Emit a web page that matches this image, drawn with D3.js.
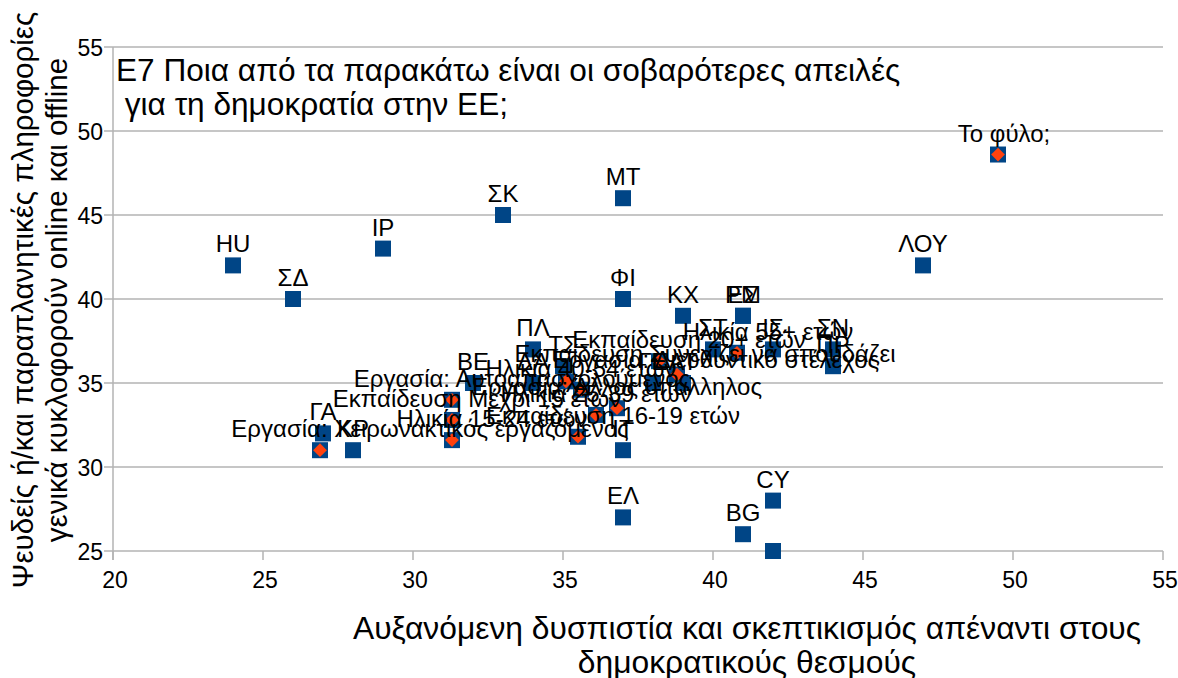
<!DOCTYPE html>
<html lang="el">
<head>
<meta charset="UTF-8">
<title>E7 scatter</title>
<script src="https://cdn.jsdelivr.net/npm/d3@7"></script>
<style>
    body { margin: 0; background: #fff; font-family: 'Liberation Sans', Arial, sans-serif; }
    svg text { fill: #000; }
</style>
</head>
<body>
<svg id="chart" width="1178" height="678"></svg>
<script>
    // countries (blue squares)
    const countryCodes = ["HU", "ΣΔ", "ΙΡ", "ΣΚ", "ΜΤ", "ΦΙ", "ΚΧ", "ΡΜ", "ΕΣ", "ΠΛ", "ΤΣ", "ΒΕ", "ΔΑ",
        "ΓΑ", "ΚΡ", "ΕΛ", "BG", "CY", "", "ΛΟΥ", "ΣΤ", "ΙΣ", "ΣΝ", "ΠΡ", "ΓΕ", "ΑΤ", "ΙΤ"];
    const countryX = [24, 26, 29, 33, 37, 37, 39, 41, 41, 34, 35, 32, 34,
        27, 28, 37, 41, 42, 42, 47, 40, 42, 44, 44, 38, 39, 37];
    const countryY = [42, 40, 43, 45, 46, 40, 39, 39, 39, 37, 36, 35, 35,
        32, 31, 27, 26, 28, 25, 42, 37, 37, 37, 36, 35, 35, 31];

    // socio-demographic groups (orange diamonds)
    const groupLabels = ["Το φύλο;", "Εργασία: Χειρωνακτικός εργαζόμενος", "Εργασία: Αυτοαπασχολούμενος",
        "Εκπαίδευση Μέχρι 15 ετών", "Ηλικία 15-24 ετών", "Εκπαίδευση 16-19 ετών", "Ηλικία 25-39 ετών",
        "Εργασία: Άλλος υπάλληλος", "Ηλικία 40-54 ετών", "Εργασία: Διευθυντικό στέλεχος",
        "Εκπαίδευση 20+ ετών", "Εκπαίδευση Συνεχίζει να σπουδάζει", "Ηλικία 55+ ετών"];
    const groupX = [49.5, 26.9, 31.3, 31.3, 31.3, 35.5, 36.1, 36.8, 35.6, 35.1, 38.2, 38.8, 40.8];
    const groupY = [48.6, 31.0, 34.0, 32.8, 31.6, 31.8, 33.1, 33.5, 34.6, 35.1, 36.3, 35.5, 36.8];

    const xTicks = [20, 25, 30, 35, 40, 45, 50, 55];
    const yTicks = [25, 30, 35, 40, 45, 50, 55];

    const titleLines = ["E7 Ποια από τα παρακάτω είναι οι σοβαρότερες απειλές", " για τη δημοκρατία στην ΕΕ;"];
    const xTitle = ["Αυξανόμενη δυσπιστία και σκεπτικισμός απέναντι στους", "δημοκρατικούς θεσμούς"];
    const yTitle = ["Ψευδείς ή/και παραπλανητικές πληροφορίες", "γενικά κυκλοφορούν online και offline"];

    const svg = d3.select("#chart");
    const margin = {left: 113, right: 15, top: 47, bottom: 127};
    const W = 1178, H = 678;

    const x = d3.scaleLinear().domain([20, 55]).range([margin.left, W - margin.right]);
    const y = d3.scaleLinear().domain([25, 55]).range([H - margin.bottom, margin.top]);

    const blue = "#004586", orange = "#ff420e", grid = "#b3b3b3";

    // label nudges (moved by hand in the original chart)
    const nudge = {
        "Εργασία: Χειρωνακτικός εργαζόμενος": 110,
        "Εργασία: Αυτοαπασχολούμενος": 70,
        "Εκπαίδευση Μέχρι 15 ετών": 25,
        "Ηλικία 15-24 ετών": 40,
        "Εκπαίδευση 16-19 ετών": 35,
        "Εργασία: Διευθυντικό στέλεχος": 150,
        "Εκπαίδευση 20+ ετών": 30,
        "Ηλικία 55+ ετών": 31,
        "Εκπαίδευση Συνεχίζει να σπουδάζει": 28,
        "Το φύλο;": 6
    };

    // grid
    svg.append("g").selectAll("line")
        .data(yTicks)
        .enter().append("line")
        .attr("x1", x(20) - 9).attr("x2", x(55))
        .attr("y1", d => y(d)).attr("y2", d => y(d))
        .attr("stroke", grid).attr("stroke-width", 1.5);

    svg.append("line")
        .attr("x1", x(20)).attr("x2", x(20))
        .attr("y1", y(55)).attr("y2", y(25) + 9)
        .attr("stroke", grid).attr("stroke-width", 1.5);

    svg.append("g").selectAll("line")
        .data(xTicks)
        .enter().append("line")
        .attr("x1", d => x(d)).attr("x2", d => x(d))
        .attr("y1", y(25)).attr("y2", y(25) + 9)
        .attr("stroke", grid).attr("stroke-width", 1.5);

    // tick labels
    svg.append("g").selectAll("text")
        .data(xTicks)
        .enter().append("text")
        .attr("x", d => x(d) + 2).attr("y", y(25) + 37)
        .attr("text-anchor", "middle")
        .attr("font-size", 23)
        .text(d => d);

    svg.append("g").selectAll("text")
        .data(yTicks)
        .enter().append("text")
        .attr("x", x(20) - 10).attr("y", d => y(d) + 9)
        .attr("text-anchor", "end")
        .attr("font-size", 23)
        .text(d => d);

    // chart title inside the plot
    svg.append("g").selectAll("text")
        .data(titleLines)
        .enter().append("text")
        .attr("x", x(20) + 3).attr("y", (d, i) => 81 + i * 34)
        .attr("font-size", 31.6)
        .style("white-space", "pre")
        .text(d => d);

    // axis titles
    svg.append("g").selectAll("text")
        .data(xTitle)
        .enter().append("text")
        .attr("x", 747).attr("y", (d, i) => 639 + i * 34)
        .attr("text-anchor", "middle")
        .attr("font-size", 31.8)
        .text(d => d);

    svg.append("g").selectAll("text")
        .data(yTitle)
        .enter().append("text")
        .attr("transform", (d, i) => `translate(${33 + i * 34},${300}) rotate(-90)`)
        .attr("text-anchor", "middle")
        .attr("font-size", 29.5)
        .text(d => d);

    const countries = countryCodes.map((c, i) => ({label: c, x: countryX[i], y: countryY[i]}));
    const groups = groupLabels.map((g, i) => ({label: g, x: groupX[i], y: groupY[i]}));
    const all = countries.concat(groups);

    // squares for every point, diamonds on top for the groups
    const sq = 16;
    svg.append("g").selectAll("rect")
        .data(all)
        .enter().append("rect")
        .attr("x", d => x(d.x) - sq / 2).attr("y", d => y(d.y) - sq / 2)
        .attr("width", sq).attr("height", sq)
        .attr("fill", blue);

    svg.append("g").selectAll("path")
        .data(groups)
        .enter().append("path")
        .attr("d", d3.symbol(d3.symbolDiamond2, 120))
        .attr("transform", d => `translate(${x(d.x)},${y(d.y)})`)
        .attr("fill", orange);

    // point labels
    svg.append("g").selectAll("text")
        .data(all)
        .enter().append("text")
        .attr("x", d => x(d.x) + (nudge[d.label] || 0)).attr("y", d => y(d.y) - 13)
        .attr("text-anchor", "middle")
        .attr("font-size", 24)
        .text(d => d.label);
</script>
</body>
</html>
